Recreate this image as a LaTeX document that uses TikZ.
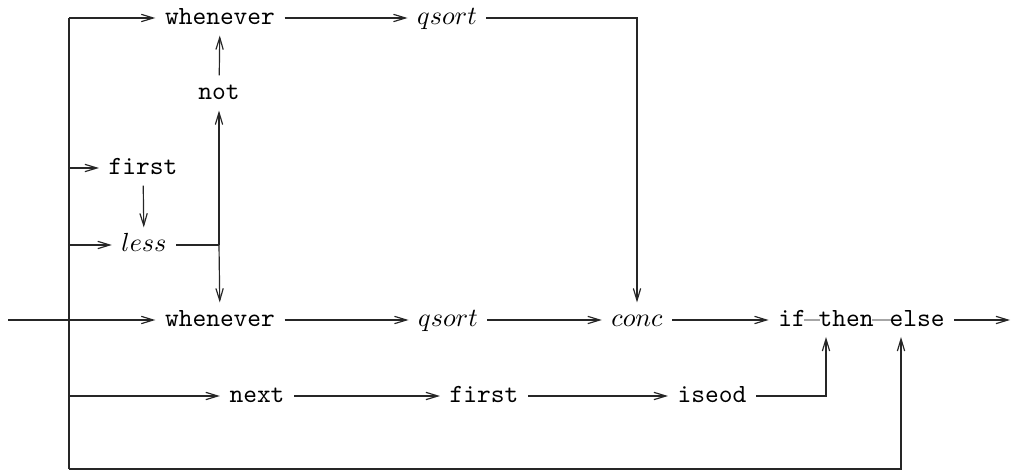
\documentclass[tikz,border=0pt]{standalone}
\usetikzlibrary{arrows.meta}
\begin{document}
\begin{tikzpicture}[x=0.382pt,y=-0.382pt,
  lab/.style={inner xsep=3.5pt,inner ysep=2.5pt,text height=6.5pt,text depth=1.5pt},
  tl/.style={lab,font=\ttfamily},
  ml/.style={lab},
  wire/.style={line width=0.45pt,black!85},
  flow/.style={wire,-{Straight Barb[length=4.6pt,width=2.8pt]}},
  joint/.style={line width=0.4pt,gray!70}]
\useasboundingbox (0,0) rectangle (1012,473);

% bus and input/output ends
\coordinate (bt) at (69,18);
\coordinate (bb) at (69,469);
\coordinate (in) at (8,320);
\coordinate (out) at (1010,320);

% top row
\node[tl] (w1) at (220,18) {whenever};
\node[ml] (q1) at (447,18) {$qsort$};
\node[tl] (not) at (219,93) {not};
\node[tl] (f1) at (143,168) {first};
\node[ml] (less) at (144,245) {$less$};

% main row
\node[tl] (w2) at (220,320) {whenever};
\node[ml] (q2) at (448,320) {$qsort$};
\node[ml] (conc) at (637,320) {$conc$};
\node[tl,inner xsep=0pt] (if) at (792,320) {if};
\node[tl,inner xsep=0pt] (then) at (846,320) {then};
\node[tl,inner xsep=0pt] (else) at (917,320) {else};
\coordinate (thenin) at (826,337);
\coordinate (elsein) at (901,337);

% bottom row
\node[tl] (nx) at (257,396) {next};
\node[tl] (f2) at (484,396) {first};
\node[tl] (eod) at (712,396) {iseod};

\coordinate (jn) at (219,245);

% bus
\draw[wire] (bt) -- (bb);
\draw[flow] (bt) -- (w1);
\draw[flow] (bt |- f1) -- (f1);
\draw[flow] (bt |- less) -- (less);
\draw[flow] (bt |- nx) -- (nx);
\draw[flow] (in) -- (w2);

% top branch
\draw[flow] (w1) -- (q1);
\draw[flow] (q1) -| (conc.north);
\draw[flow] (not) -- (w1);
\draw[flow] (f1) -- (less);
\draw[wire] (less) -- (jn);
\draw[flow] (jn) -- (not);
\draw[flow] (jn) -- (w2);

% main branch
\draw[flow] (w2) -- (q2);
\draw[flow] (q2) -- (conc);
\draw[flow] (conc) -- ([xshift=-3.5pt]if.west);
\draw[joint] ([xshift=-0.8pt]if.east) -- ([xshift=0.8pt]then.west);
\draw[joint] ([xshift=-0.8pt]then.east) -- ([xshift=0.8pt]else.west);
\draw[flow] ([xshift=3.5pt]else.east) -- (out);

% bottom branch
\draw[flow] (nx) -- (f2);
\draw[flow] (f2) -- (eod);
\draw[flow] (eod) -| (thenin);
\draw[flow] (bb) -| (elsein);
\end{tikzpicture}
\end{document}
